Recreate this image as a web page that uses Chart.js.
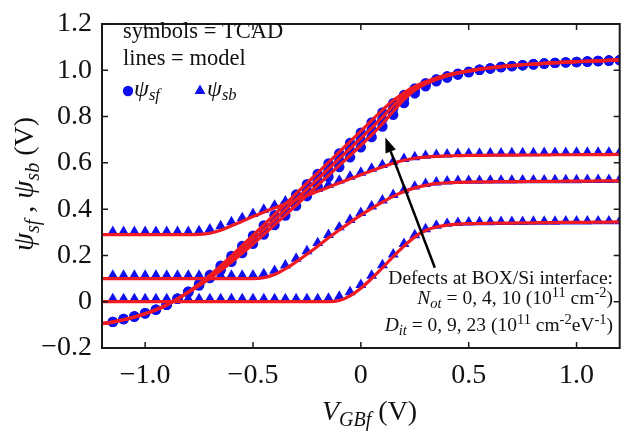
<!DOCTYPE html>
<html><head><meta charset="utf-8">
<script src="https://cdn.jsdelivr.net/npm/chart.js@4.4.0/dist/chart.umd.min.js"></script>
<style>html,body{margin:0;padding:0;background:#fff;}</style>
</head><body>
<canvas id="c" width="626" height="436"></canvas>
<script>
// ---------- data ----------
const xModel = [-1.2,-1.15,-1.1,-1.05,-1.0,-0.95,-0.9,-0.85,-0.8,-0.75,-0.7,-0.65,-0.6,-0.55,-0.5,-0.45,-0.4,-0.35,-0.3,-0.25,-0.2,-0.15,-0.1,-0.05,0,0.05,0.1,0.15,0.2,0.25,0.3,0.35,0.4,0.45,0.5,0.55,0.6,0.65,0.7,0.75,0.8,0.85,0.9,0.95,1.0,1.05,1.1,1.15,1.2];
const xTcad = [-1.15,-1.1,-1.05,-1.0,-0.95,-0.9,-0.85,-0.8,-0.75,-0.7,-0.65,-0.6,-0.55,-0.5,-0.45,-0.4,-0.35,-0.3,-0.25,-0.2,-0.15,-0.1,-0.05,0,0.05,0.1,0.15,0.2,0.25,0.3,0.35,0.4,0.45,0.5,0.55,0.6,0.65,0.7,0.75,0.8,0.85,0.9,0.95,1.0,1.05,1.1,1.15,1.2];

// model lines: psi_sf (three defect cases)
const psiSfModelA = [-0.095,-0.088,-0.078,-0.066,-0.052,-0.035,-0.014,0.012,0.042,0.076,0.114,0.155,0.198,0.242,0.287,0.332,0.377,0.422,0.467,0.512,0.557,0.602,0.647,0.692,0.737,0.783,0.828,0.869,0.903,0.930,0.951,0.967,0.980,0.990,0.998,1.005,1.011,1.016,1.020,1.024,1.027,1.030,1.033,1.035,1.037,1.039,1.041,1.043,1.045];
const psiSfModelB = [-0.095,-0.088,-0.078,-0.066,-0.052,-0.035,-0.014,0.012,0.041,0.073,0.108,0.145,0.184,0.225,0.268,0.311,0.354,0.398,0.442,0.486,0.530,0.574,0.618,0.662,0.706,0.751,0.798,0.846,0.890,0.924,0.947,0.964,0.978,0.989,0.997,1.005,1.011,1.016,1.020,1.024,1.027,1.030,1.033,1.035,1.037,1.039,1.041,1.043,1.045];
const psiSfModelC = [-0.095,-0.088,-0.078,-0.066,-0.052,-0.035,-0.014,0.012,0.040,0.069,0.101,0.135,0.171,0.209,0.249,0.290,0.332,0.374,0.417,0.460,0.503,0.546,0.589,0.632,0.676,0.721,0.769,0.822,0.873,0.914,0.941,0.960,0.975,0.987,0.996,1.004,1.010,1.015,1.020,1.024,1.027,1.030,1.033,1.035,1.037,1.039,1.041,1.043,1.045];
// model lines: psi_sb
const psiSbModel1 = [0.29,0.29,0.29,0.29,0.29,0.29,0.29,0.29,0.29,0.291,0.296,0.309,0.328,0.348,0.368,0.387,0.405,0.423,0.441,0.459,0.477,0.495,0.513,0.531,0.549,0.566,0.582,0.598,0.611,0.620,0.625,0.628,0.630,0.631,0.632,0.632,0.633,0.633,0.633,0.634,0.634,0.634,0.635,0.635,0.635,0.636,0.636,0.636,0.637];
const psiSbModel2 = [0.10,0.10,0.10,0.10,0.10,0.10,0.10,0.10,0.10,0.10,0.10,0.10,0.10,0.10,0.10,0.104,0.118,0.142,0.172,0.205,0.240,0.276,0.310,0.343,0.374,0.403,0.430,0.455,0.476,0.492,0.503,0.510,0.514,0.516,0.517,0.518,0.518,0.519,0.519,0.519,0.520,0.520,0.520,0.521,0.521,0.521,0.522,0.522,0.522];
const psiSbModel3 = [0,0,0,0,0,0,0,0,0,0,0,0,0,0,0,0,0,0,0,0,0,0,0.005,0.025,0.058,0.100,0.146,0.195,0.240,0.280,0.308,0.323,0.331,0.335,0.337,0.338,0.339,0.340,0.340,0.341,0.341,0.342,0.342,0.343,0.343,0.343,0.344,0.344,0.345];

// TCAD symbols: psi_sf (circles)
const psiSfTcadA = [-0.087,-0.075,-0.064,-0.050,-0.034,-0.013,0.013,0.043,0.077,0.116,0.156,0.198,0.241,0.285,0.330,0.374,0.419,0.463,0.508,0.552,0.597,0.641,0.686,0.730,0.775,0.818,0.858,0.893,0.922,0.944,0.961,0.974,0.985,0.994,1.002,1.008,1.014,1.018,1.022,1.026,1.029,1.032,1.034,1.036,1.038,1.040,1.042,1.044];
const psiSfTcadB = [-0.087,-0.075,-0.064,-0.050,-0.034,-0.013,0.013,0.043,0.074,0.110,0.147,0.186,0.226,0.268,0.310,0.352,0.395,0.438,0.481,0.524,0.567,0.610,0.654,0.698,0.742,0.788,0.835,0.878,0.913,0.939,0.957,0.972,0.984,0.993,1.002,1.008,1.014,1.018,1.022,1.026,1.029,1.032,1.034,1.036,1.038,1.040,1.042,1.044];
const psiSfTcadC = [-0.087,-0.075,-0.064,-0.050,-0.034,-0.013,0.013,0.041,0.070,0.102,0.136,0.172,0.210,0.250,0.290,0.331,0.372,0.414,0.456,0.498,0.540,0.582,0.624,0.667,0.711,0.757,0.808,0.858,0.900,0.931,0.952,0.968,0.981,0.991,1.002,1.008,1.014,1.018,1.022,1.026,1.029,1.032,1.034,1.036,1.038,1.040,1.042,1.044];
// TCAD symbols: psi_sb (triangles)
const psiSbTcad1 = [0.302,0.302,0.302,0.302,0.302,0.302,0.302,0.302,0.305,0.313,0.327,0.344,0.362,0.380,0.398,0.416,0.434,0.452,0.470,0.488,0.506,0.524,0.541,0.558,0.575,0.591,0.605,0.617,0.625,0.631,0.635,0.637,0.639,0.640,0.640,0.641,0.641,0.642,0.642,0.642,0.643,0.643,0.643,0.644,0.644,0.644,0.645,0.645];
const psiSbTcad2 = [0.113,0.113,0.113,0.113,0.113,0.113,0.113,0.113,0.113,0.113,0.113,0.113,0.113,0.114,0.120,0.134,0.157,0.186,0.219,0.254,0.289,0.322,0.354,0.384,0.412,0.438,0.462,0.482,0.498,0.509,0.516,0.520,0.522,0.523,0.523,0.524,0.524,0.524,0.525,0.525,0.525,0.526,0.526,0.526,0.527,0.527,0.527,0.528];
const psiSbTcad3 = [0.012,0.012,0.012,0.012,0.012,0.012,0.012,0.012,0.012,0.012,0.012,0.012,0.012,0.012,0.012,0.012,0.012,0.012,0.012,0.012,0.014,0.022,0.042,0.073,0.113,0.158,0.205,0.250,0.288,0.314,0.329,0.337,0.341,0.343,0.344,0.344,0.345,0.345,0.345,0.346,0.346,0.346,0.347,0.347,0.347,0.348,0.348,0.348];

// axes
const xTickValues = [-1.0,-0.5,0,0.5,1.0];
const xTickLabels = ['\u22121.0','\u22120.5','0','0.5','1.0'];
const yTickValues = [-0.2,0,0.2,0.4,0.6,0.8,1.0,1.2];
const yTickLabels = ['\u22120.2','0','0.2','0.4','0.6','0.8','1.0','1.2'];

// ---------- drawing ----------
const RED = '#f01a22', BLUE = '#1010ee';
const SERIF = '"Liberation Serif","Times New Roman",serif';
function pts(xs, ys){ return xs.map((x,i)=>({x:x, y:ys[i]})); }

const datasets = [];
[psiSfModelA,psiSfModelB,psiSfModelC,psiSbModel1,psiSbModel2,psiSbModel3].forEach(ys=>{
  datasets.push({type:'line', data:pts(xModel, ys), showLine:true, borderColor:RED, borderWidth:3.2,
    pointRadius:0, fill:false, cubicInterpolationMode:'monotone', order:0});
});
[psiSfTcadA,psiSfTcadB,psiSfTcadC].forEach(ys=>{
  datasets.push({type:'scatter', data:pts(xTcad, ys), showLine:false, pointStyle:'circle', pointRadius:5.2,
    backgroundColor:BLUE, borderColor:BLUE, borderWidth:0, order:1});
});
[psiSbTcad1,psiSbTcad2,psiSbTcad3].forEach(ys=>{
  datasets.push({type:'scatter', data:pts(xTcad, ys), showLine:false, pointStyle:'triangle', pointRadius:6.3,
    backgroundColor:BLUE, borderColor:BLUE, borderWidth:0, order:1});
});

function fnt(size, it){ return (it?'italic ':'') + size + 'px ' + SERIF; }
function richWidth(ctx, segs){ let w=0; for(const s of segs){ ctx.font=fnt(s.s, s.i); w+=ctx.measureText(s.t).width; } return w; }
function drawRich(ctx, segs, x, y, align){
  const w = richWidth(ctx, segs);
  let cx = align==='right' ? x-w : (align==='center' ? x-w/2 : x);
  ctx.textAlign='left'; ctx.textBaseline='alphabetic';
  for(const s of segs){ ctx.font=fnt(s.s, s.i); ctx.fillText(s.t, cx, y+(s.dy||0)); cx += ctx.measureText(s.t).width; }
}

const decor = {
  id:'decor',
  afterDatasetsDraw(chart){
    const ctx = chart.ctx, a = chart.chartArea, xs = chart.scales.x, ys = chart.scales.y;
    ctx.save();
    // frame
    ctx.strokeStyle='#1a1a1a'; ctx.lineWidth=2;
    ctx.strokeRect(a.left, a.top, a.right-a.left, a.bottom-a.top);
    ctx.lineWidth=1.5; ctx.beginPath();
    for(const v of xTickValues){ const p=xs.getPixelForValue(v); ctx.moveTo(p,a.bottom); ctx.lineTo(p,a.bottom-6); ctx.moveTo(p,a.top); ctx.lineTo(p,a.top+6); }
    for(const v of yTickValues){ const p=ys.getPixelForValue(v); ctx.moveTo(a.left,p); ctx.lineTo(a.left+6,p); ctx.moveTo(a.right,p); ctx.lineTo(a.right-6,p); }
    ctx.stroke();
    // arrow
    const tx = xs.getPixelForValue(0.1135), ty = ys.getPixelForValue(0.71);
    const bx = xs.getPixelForValue(0.343), by = ys.getPixelForValue(0.147);
    const ang = Math.atan2(ty-by, tx-bx), L=15, H=5.5;
    const hx = tx - L*Math.cos(ang), hy = ty - L*Math.sin(ang);
    ctx.strokeStyle='#000'; ctx.fillStyle='#000'; ctx.lineWidth=2.5;
    ctx.beginPath(); ctx.moveTo(bx,by); ctx.lineTo(hx,hy); ctx.stroke();
    ctx.beginPath(); ctx.moveTo(tx,ty);
    ctx.lineTo(hx + H*Math.sin(ang), hy - H*Math.cos(ang));
    ctx.lineTo(hx - H*Math.sin(ang), hy + H*Math.cos(ang));
    ctx.closePath(); ctx.fill();
    // legend block
    ctx.fillStyle='#111';
    drawRich(ctx,[{t:'symbols = TCAD',s:22.5}],123,38,'left');
    drawRich(ctx,[{t:'lines = model',s:22.5}],123,65,'left');
    ctx.fillStyle=BLUE;
    ctx.beginPath(); ctx.arc(128,91,5.2,0,Math.PI*2); ctx.fill();
    ctx.beginPath(); ctx.moveTo(200,84.5); ctx.lineTo(205.5,94); ctx.lineTo(194.5,94); ctx.closePath(); ctx.fill();
    ctx.fillStyle='#111';
    drawRich(ctx,[{t:'\u03C8',s:24,i:true},{t:'sf',s:16.5,i:true,dy:4}],134,96,'left');
    drawRich(ctx,[{t:'\u03C8',s:24,i:true},{t:'sb',s:16.5,i:true,dy:4}],207,96,'left');
    // annotation
    drawRich(ctx,[{t:'Defects at BOX/Si interface:',s:19.5}],613,284,'right');
    drawRich(ctx,[{t:'N',s:19.5,i:true},{t:'ot',s:14.5,i:true,dy:4},{t:' = 0, 4, 10 (10',s:19.5},{t:'11',s:14.5,dy:-7},{t:' cm',s:19.5},{t:'-2',s:14.5,dy:-7},{t:')',s:19.5}],613,304,'right');
    drawRich(ctx,[{t:'D',s:19.5,i:true},{t:'it',s:14.5,i:true,dy:4},{t:' = 0, 9, 23 (10',s:19.5},{t:'11',s:14.5,dy:-7},{t:' cm',s:19.5},{t:'-2',s:14.5,dy:-7},{t:'eV',s:19.5},{t:'-1',s:14.5,dy:-7},{t:')',s:19.5}],613,331,'right');
    // axis titles
    drawRich(ctx,[{t:'V',s:28,i:true},{t:'GBf',s:20,i:true,dy:6},{t:' (V)',s:28}],322,420,'left');
    ctx.translate(33,184); ctx.rotate(-Math.PI/2);
    drawRich(ctx,[{t:'\u03C8',s:29,i:true},{t:'sf',s:20,i:true,dy:6},{t:' , ',s:28},{t:'\u03C8',s:29,i:true},{t:'sb',s:20,i:true,dy:6},{t:' (V)',s:28}],0,0,'center');
    ctx.restore();
  }
};

const tickFont = {family:SERIF, size:28, lineHeight:1};
new Chart(document.getElementById('c').getContext('2d'), {
  type:'scatter',
  data:{datasets},
  options:{
    responsive:false, animation:false, devicePixelRatio:1,
    layout:{padding:{top:14,right:1,left:0,bottom:0}},
    plugins:{legend:{display:false}, tooltip:{enabled:false}},
    scales:{
      x:{type:'linear', min:-1.2, max:1.2,
        afterBuildTicks:s=>{ s.ticks = xTickValues.map(v=>({value:v})); },
        afterFit:s=>{ s.height = 88; },
        grid:{display:false, drawTicks:false}, border:{display:false},
        ticks:{font:tickFont, color:'#111', padding:14, maxRotation:0, autoSkip:false,
          callback:(v)=>xTickLabels[xTickValues.indexOf(v)]}},
      y:{type:'linear', min:-0.2, max:1.2,
        afterBuildTicks:s=>{ s.ticks = yTickValues.map(v=>({value:v})); },
        afterFit:s=>{ s.width = 102; },
        grid:{display:false, drawTicks:false}, border:{display:false},
        ticks:{font:tickFont, color:'#111', padding:10, autoSkip:false,
          callback:(v)=>yTickLabels[yTickValues.indexOf(v)]}}
    }
  },
  plugins:[decor]
});
</script>
</body></html>
